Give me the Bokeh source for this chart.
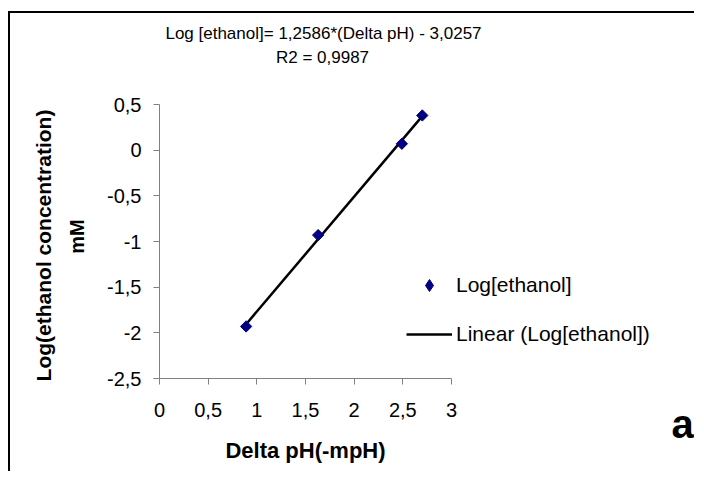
import math
from bokeh.plotting import figure
from bokeh.models import (Label, Legend, LegendItem, FixedTicker, Range1d,
                          ColumnDataSource)
from bokeh.embed import file_html
from bokeh.resources import INLINE

# ---- data ----
delta_ph = [0.89, 1.63, 2.49, 2.70]
log_ethanol = [-1.93, -0.93, 0.07, 0.38]
slope = 1.2586
intercept = -3.0257
fit_x = [min(delta_ph), max(delta_ph)]
fit_y = [slope * v + intercept for v in fit_x]

x_ticks = [0, 0.5, 1, 1.5, 2, 2.5, 3]
x_tick_labels = ["0", "0,5", "1", "1,5", "2", "2,5", "3"]
y_ticks = [-2.5, -2, -1.5, -1, -0.5, 0, 0.5]
y_tick_labels = ["-2,5", "-2", "-1,5", "-1", "-0,5", "0", "0,5"]

title_line1 = "Log [ethanol]= 1,2586*(Delta pH) - 3,0257"
title_line2 = "R2 = 0,9987"
x_label = "Delta pH(-mpH)"
y_label1 = "Log(ethanol concentration)"
y_label2 = "mM"
series_name = "Log[ethanol]"
fit_name = "Linear (Log[ethanol])"
panel_tag = "a"

# ---- layout (page pixels) ----
W, H = 686, 460
CANVAS_LEFT, CANVAS_TOP = 10, 13
AX_LEFT, AX_RIGHT = 159, 451     # page x of x=0 and x=3
AX_TOP, AX_BOTTOM = 104, 378     # page y of y=0.5 and y=-2.5
FONT = "Liberation Sans"
MID = 0.3465  # em offset from baseline to the text-box middle

x_lo, x_hi = x_ticks[0], x_ticks[-1]
y_lo, y_hi = y_ticks[0], y_ticks[-1]
kx = (x_hi - x_lo) / (AX_RIGHT - AX_LEFT)
ky = (y_hi - y_lo) / (AX_BOTTOM - AX_TOP)
x_range = Range1d(x_lo - (AX_LEFT - CANVAS_LEFT) * kx,
                  x_hi + (CANVAS_LEFT + W - AX_RIGHT) * kx)
y_range = Range1d(y_lo - (CANVAS_TOP + H - AX_BOTTOM) * ky,
                  y_hi + (AX_TOP - CANVAS_TOP) * ky)

p = figure(width=W, height=H, x_range=x_range, y_range=y_range,
           output_backend="svg", toolbar_location=None, title=None,
           min_border=0)
p.margin = (11, 0, 0, 8)
p.styles = {"border-top": "2px solid black", "border-left": "2px solid black"}
p.xgrid.visible = False
p.ygrid.visible = False
p.outline_line_color = None

p.xaxis.fixed_location = y_lo
p.xaxis.bounds = (x_lo, x_hi)
p.yaxis.fixed_location = x_lo
p.yaxis.bounds = (y_lo, y_hi)

for ax, ticks, labels in ((p.xaxis[0], x_ticks, x_tick_labels),
                          (p.yaxis[0], y_ticks, y_tick_labels)):
    ax.ticker = FixedTicker(ticks=ticks)
    ax.major_label_overrides = {t: l for t, l in zip(ticks, labels)}
    ax.axis_line_color = "#808080"
    ax.major_tick_line_color = "#808080"
    ax.major_tick_out = 6
    ax.major_tick_in = 0
    ax.minor_tick_line_color = None
    ax.major_label_text_font = FONT
    ax.major_label_text_font_size = "20px"
    ax.major_label_text_color = "black"

p.xaxis.major_label_standoff = 18
p.yaxis.major_label_standoff = 12
p.xaxis.axis_label = x_label
p.xaxis.axis_label_text_font = FONT
p.xaxis.axis_label_text_font_style = "bold"
p.xaxis.axis_label_text_font_size = "22px"
p.xaxis.axis_label_text_color = "black"
p.xaxis.axis_label_standoff = 18

src = ColumnDataSource(data=dict(x=delta_ph, y=log_ethanol))
ln = p.line(fit_x, fit_y, line_color="black", line_width=2.5)
# diamond key for the legend, drawn under the data markers
sc_key = p.scatter("x", "y", source=src, marker="diamond", size=9,
                   fill_color="#000080", line_color="#000080")
sc = p.scatter("x", "y", source=src, marker="square", angle=math.pi / 4,
               size=8, fill_color="#000080", line_color="#000080")


def sx(px):
    return px - CANVAS_LEFT


def sy(py):
    return CANVAS_TOP + H - py


legend = Legend(items=[LegendItem(label=series_name, renderers=[sc_key]),
                       LegendItem(label=fit_name, renderers=[ln])],
                location=(sx(406), sy(349)), orientation="vertical",
                glyph_width=46, glyph_height=30, label_height=30,
                label_standoff=4, spacing=19, padding=0, margin=0,
                border_line_color=None, background_fill_alpha=0,
                label_text_font=FONT, label_text_font_size="21px",
                label_text_color="black")
p.add_layout(legend)


def add_label(text, px, py, size, align="center", bold=False, vertical=False):
    """px, py: page position of the text baseline (centre/left by align)."""
    if vertical:
        px -= MID * size   # text reads upward, so its 'up' is to the left
        angle = math.pi / 2
    else:
        py -= MID * size
        angle = 0.0
    p.add_layout(Label(x=sx(px), y=sy(py), x_units="screen", y_units="screen",
                       text=text, text_align=align, text_baseline="middle",
                       text_font=FONT, text_font_size=f"{size}px",
                       text_font_style="bold" if bold else "normal",
                       text_color="black", angle=angle))


add_label(title_line1, 323, 39, 17)
add_label(title_line2, 322, 63, 17)
add_label(panel_tag, 671, 437, 40, align="left", bold=True)
add_label(y_label1, 50, 245, 21, bold=True, vertical=True)
add_label(y_label2, 83, 236, 20, bold=True, vertical=True)

open("out.html", "w").write(file_html(p, INLINE))
